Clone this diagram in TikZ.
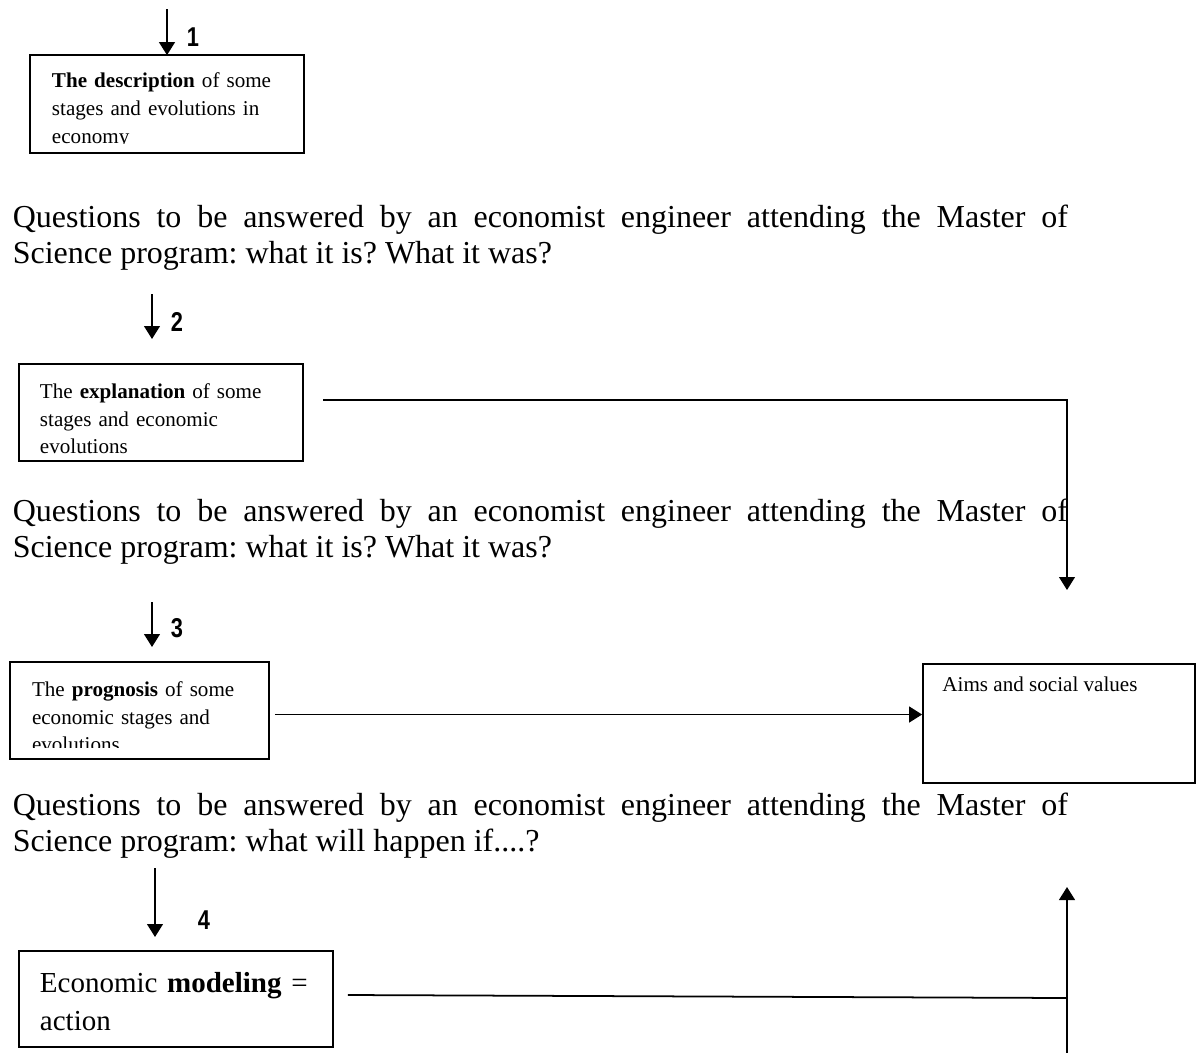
\documentclass[tikz,border=0pt]{standalone}
\usepackage{fontspec}
\setmainfont{Liberation Serif}
\newfontfamily\numfont[FakeStretch=0.8]{Liberation Sans}
\usetikzlibrary{arrows.meta,positioning,calc}
\frenchspacing
\tikzset{
  blk/.style={rectangle,draw,line width=1pt,align=left,text width=#1,
              inner xsep=0.42cm,inner ysep=0pt,text height=15.5pt,
              font=\fontsize{12}{15.9}\selectfont},
  para/.style={anchor=base west,text width=21.1cm,align=justify,inner sep=0pt,
               font=\fontsize{18.2}{20.8}\selectfont},
  num/.style={font=\numfont\bfseries\fontsize{15.5}{18}\selectfont,inner sep=0pt},
  arr/.style={-{Triangle[length=7.4pt,width=9pt]},line width=1pt},
  ln/.style={line width=1pt},
}

\begin{document}
\begin{tikzpicture}
  \useasboundingbox (0,0) rectangle (24.08,-21.04);

  % boxes (1 and 3 are cut at the bottom line of text)
  \begin{scope}
    \clip (0,-0.9) rectangle (7,-2.87);
    \node[blk=4.6cm,minimum height=1.92cm,draw=none] (desc) at (3.34,-2.08)
      {\textbf{The description} of some\\stages and evolutions in\\economy};
  \end{scope}
  \draw[ln] (desc.south west) rectangle (desc.north east);

  \node[blk=4.84cm,minimum height=1.94cm] (expl) at (3.22,-8.25)
    {The \textbf{explanation} of some\\stages and economic\\evolutions};

  \begin{scope}
    \clip (0,-12.9) rectangle (7,-14.94);
    \node[blk=4.3cm,minimum height=1.9cm,draw=none] (prog) at (2.79,-14.21)
      {The \textbf{prognosis} of some\\economic stages and\\evolutions};
  \end{scope}
  \draw[ln] (prog.south west) rectangle (prog.north east);

  \node[blk=5.44cm,minimum height=1.92cm,text height=14.5pt,
        font=\fontsize{16.5}{21.6}\selectfont] (model) at (3.52,-19.98)
    {Economic \textbf{modeling} =\\action};

  \node[rectangle,draw,line width=1pt,minimum width=5.44cm,minimum height=2.38cm,
        inner sep=0pt] (aims) at (21.18,-14.47) {};
  \node[anchor=base west,inner sep=0pt,font=\fontsize{12}{15.9}\selectfont]
    (aimstxt) at ([xshift=0.4cm,yshift=-0.56cm]aims.north west) {Aims and social values};

  % questions
  \node[para] (q1) at (0.25,-4.54) {Questions to be answered by an economist engineer
    attending the Master of\linebreak Science program: what it is? What it was?};
  \node[para] (q2) at (0.25,-10.42) {Questions to be answered by an economist engineer
    attending the Master of\linebreak Science program: what it is? What it was?};
  \node[para] (q3) at (0.25,-16.30) {Questions to be answered by an economist engineer
    attending the Master of\linebreak Science program: what will happen if....?};

  % numbered steps
  \coordinate (a1) at (3.34,-0.18);
  \draw[arr] (a1) -- (desc.north);
  \node[num] (n1) at (3.86,-0.74) {1};
  \foreach \k/\x/\ya/\yb/\lx/\ly in {2/3.04/-5.88/-6.78/3.54/-6.44,
                                     3/3.04/-12.04/-12.94/3.54/-12.56,
                                     4/3.10/-17.36/-18.74/4.08/-18.40}{
    \coordinate (s\k) at (\x,\ya);
    \coordinate (t\k) at (\x,\yb);
    \draw[arr] (s\k) -- (t\k);
    \node[num] (n\k) at (\lx,\ly) {\k};
  }

  % links to the aims
  \coordinate (e1) at (6.46,-8.0);
  \coordinate (e2) at (21.34,-11.8);
  \draw[arr] (e1) -| (e2);

  \coordinate (p1) at ([xshift=0.12cm,yshift=-0.08cm]prog.east);
  \draw[arr] (p1) -- (p1 -| aims.west);

  \coordinate (m1) at ([xshift=0.28cm,yshift=0.08cm]model.east);
  \coordinate (m2) at (21.34,-19.96);
  \draw[ln] (m1) -- (m2);
  \coordinate (m3) at (21.34,-21.1);
  \coordinate (m4) at (21.34,-17.74);
  \draw[arr] (m3) -- (m4);
\end{tikzpicture}
\end{document}
